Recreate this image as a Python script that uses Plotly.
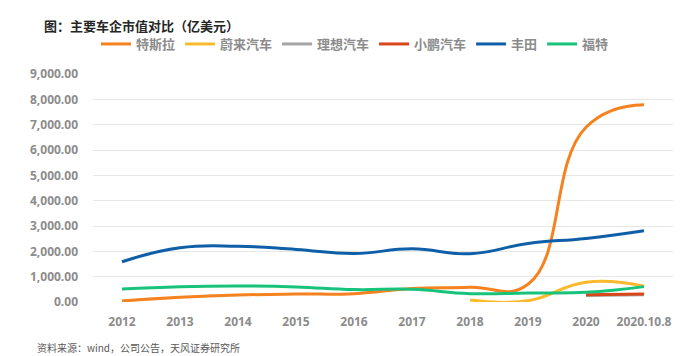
import plotly.graph_objects as go

categories = ["2012", "2013", "2014", "2015", "2016", "2017", "2018", "2019", "2020", "2020.10.8"]

tesla = [40, 185, 275, 315, 330, 530, 585, 700, 6900, 7790]
nio = [None, None, None, None, None, None, 80, 50, 780, 620]
li_auto = [None, None, None, None, None, None, None, None, 260, 290]
xpeng = [None, None, None, None, None, None, None, None, 290, 315]
toyota = [1590, 2140, 2200, 2075, 1915, 2100, 1905, 2310, 2510, 2815]
ford = [515, 605, 635, 595, 490, 500, 330, 355, 380, 607]

series = [
    ("特斯拉", tesla, "#F5821F"),
    ("蔚来汽车", nio, "#FBBA2C"),
    ("理想汽车", li_auto, "#A5A5A5"),
    ("小鹏汽车", xpeng, "#D8461A"),
    ("丰田", toyota, "#0F5FA8"),
    ("福特", ford, "#17C37B"),
]

y_ticks = [0, 1000, 2000, 3000, 4000, 5000, 6000, 7000, 8000, 9000]
y_tick_labels = [f"{v:,.2f}" for v in y_ticks]

fig = go.Figure()
for name, vals, color in series:
    fig.add_trace(go.Scatter(
        x=categories, y=vals, name=name, mode="lines",
        line=dict(color=color, width=3, shape="spline", smoothing=1.3),
        connectgaps=False,
    ))

# the page body has an 8px margin, so the figure is 8px smaller and offset
W, H = 691, 348
font_family = "Open Sans, Noto Sans CJK SC, sans-serif"
cjk = "Noto Sans CJK SC, sans-serif"
fig.update_layout(
    width=W, height=H,
    margin=dict(l=85, r=26, t=66, b=54, autoexpand=False),
    paper_bgcolor="white", plot_bgcolor="white",
    font=dict(family=font_family, color="#808080"),
    showlegend=True,
    legend=dict(
        orientation="h", x=(355 - 8) / W, xanchor="center", xref="container",
        y=1 - (44 - 8) / H, yanchor="middle", yref="container",
        font=dict(size=13, color="#8C8C8C", family=cjk, weight="bold"),
        itemwidth=30, tracegroupgap=0,
    ),
    xaxis=dict(
        type="category", range=[-0.5, 9.5], automargin=False,
        showgrid=False, showline=False, zeroline=False,
        tickfont=dict(size=12, color="#8C8C8C", family=font_family, weight="bold"),
        ticklabelstandoff=11,
    ),
    yaxis=dict(
        range=[0, 9000], tickvals=y_ticks, ticktext=y_tick_labels, automargin=False,
        showgrid=True, gridcolor="#E6E6E6", gridwidth=1,
        zeroline=False, showline=False,
        tickfont=dict(size=12, color="#8C8C8C", family=font_family, weight="bold"),
        ticklabelstandoff=14,
    ),
)
fig.add_annotation(text="<b>图：主要车企市值对比（亿美元）</b>", xref="paper", yref="paper",
                   x=(42 - 93) / 580, y=1 + (74 - 25) / 228, xanchor="left", yanchor="middle",
                   showarrow=False, font=dict(size=13, color="#262626", family=cjk))
fig.add_annotation(text="资料来源：wind，公司公告，天风证券研究所", xref="paper", yref="paper",
                   x=(35 - 93) / 580, y=-(347 - 302) / 228, xanchor="left", yanchor="middle",
                   showarrow=False, font=dict(size=10, color="#595959", family=cjk))

fig.write_html("out.html")
